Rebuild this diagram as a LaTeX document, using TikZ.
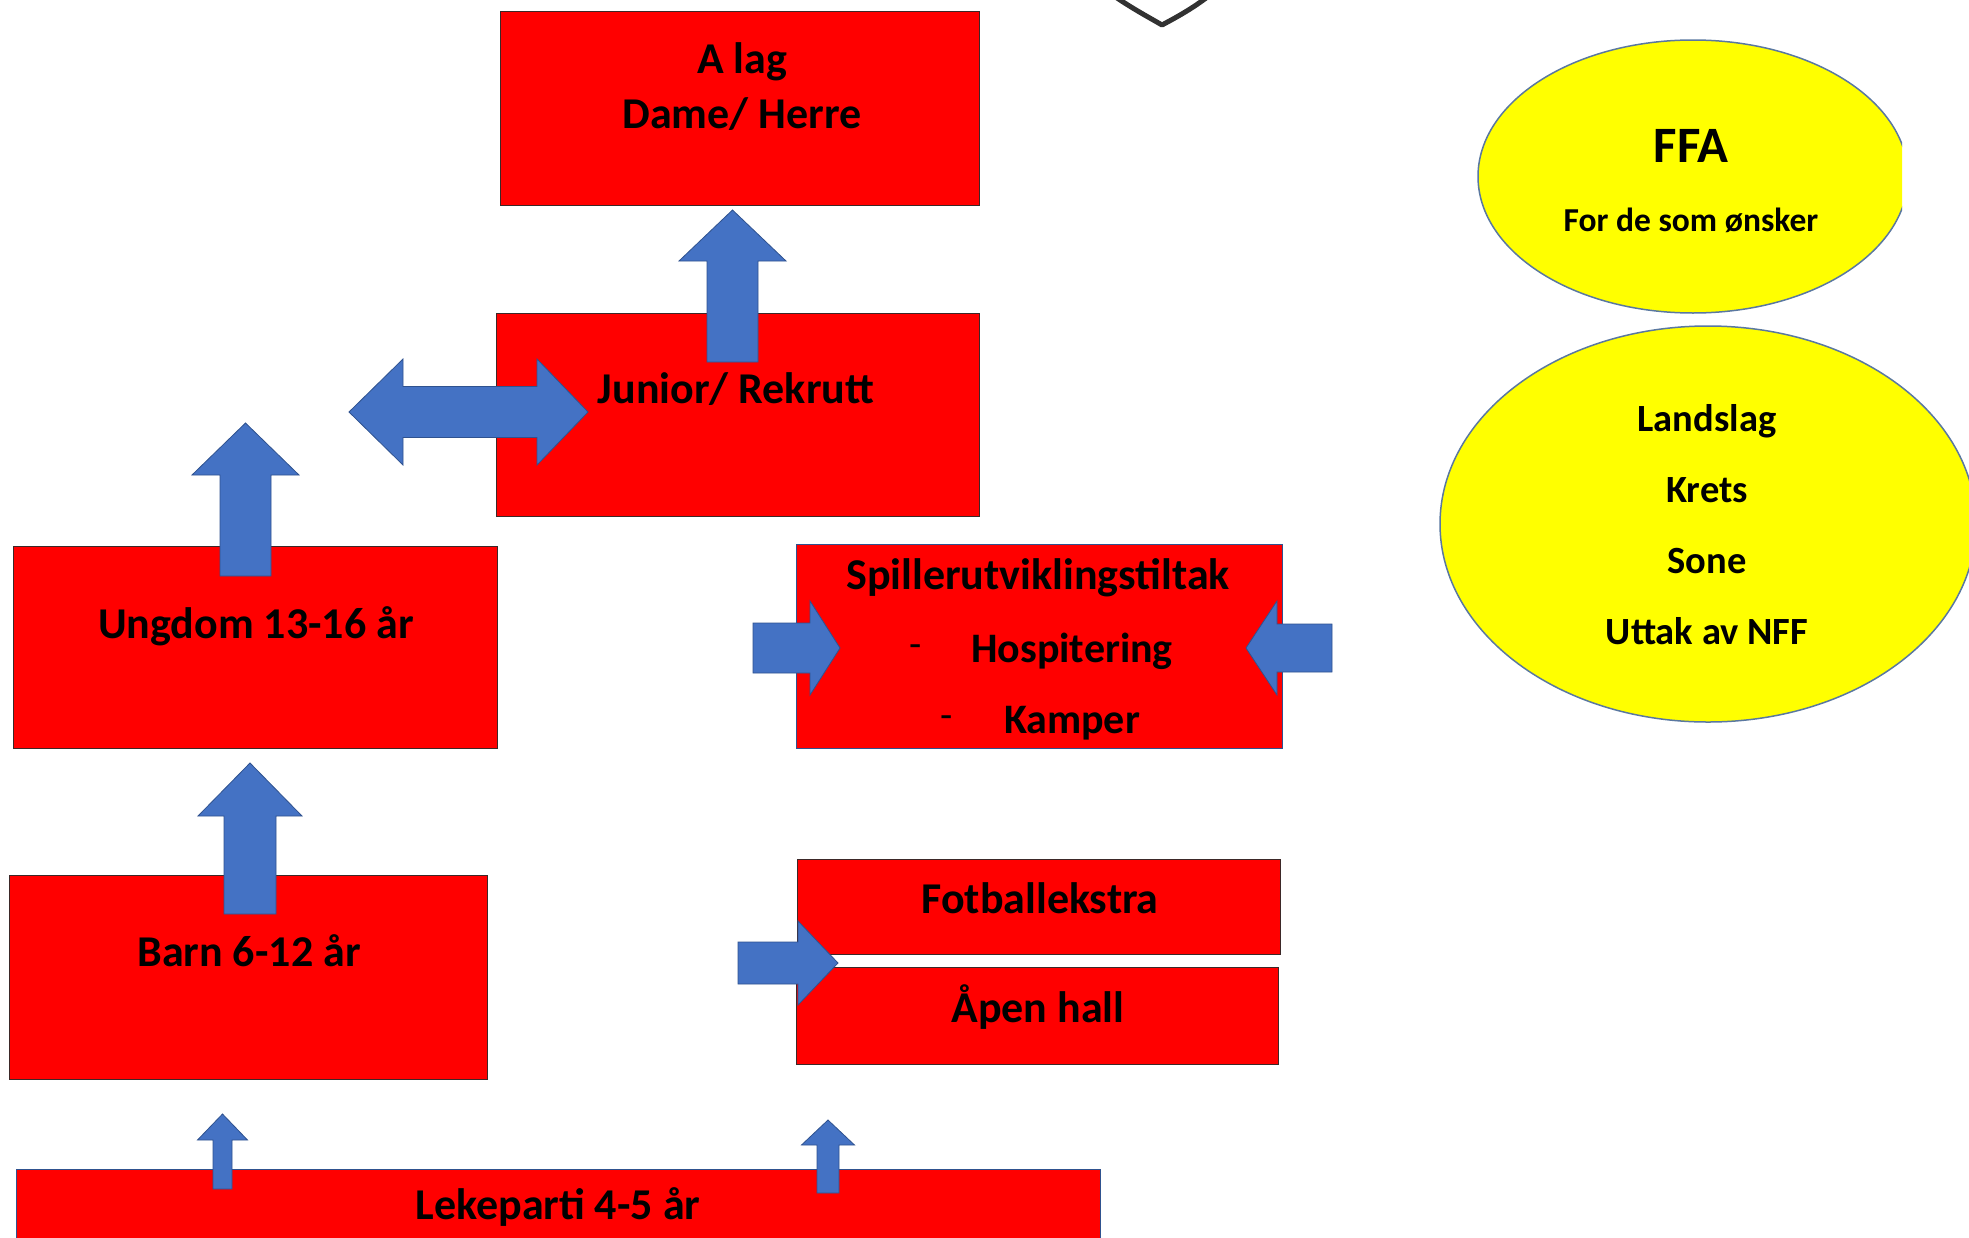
\documentclass[tikz,border=0pt]{standalone}
\usepackage{fontspec}
\setmainfont{Carlito}
\usetikzlibrary{shapes.geometric}
\definecolor{boxred}{RGB}{255,0,0}
\definecolor{boxedge}{RGB}{60,40,40}
\definecolor{blueedge}{RGB}{47,82,143}
\definecolor{arrblue}{RGB}{68,114,196}
\definecolor{ellyel}{RGB}{255,255,0}
\definecolor{elledge}{RGB}{90,120,160}
\definecolor{shieldgray}{RGB}{50,50,50}
\newcommand\blockv[6]{% cx, tip, base, tail, shaft half, head half
  \filldraw[blockarrow] (#1,#2) -- (#1+#6,#3) -- (#1+#5,#3) -- (#1+#5,#4) -- (#1-#5,#4) -- (#1-#5,#3) -- (#1-#6,#3) -- cycle;}
\newcommand\blockh[6]{% cy, tip, base, tail, shaft half, head half
  \filldraw[blockarrow] (#2,#1) -- (#3,#1-#6) -- (#3,#1-#5) -- (#4,#1-#5) -- (#4,#1+#5) -- (#3,#1+#5) -- (#3,#1+#6) -- cycle;}
\begin{document}
\begin{tikzpicture}[x=1pt,y=-1pt,
  redbox/.style={rectangle, fill=boxred, draw=boxedge, line width=1pt, inner sep=0pt},
  bluebox/.style={redbox, draw=blueedge},
  blockarrow/.style={fill=arrblue, draw=blueedge, line width=0.8pt, line join=miter},
  yell/.style={ellipse, fill=ellyel, draw=elledge, line width=1.5pt, inner sep=0pt},
  lbl/.style={font=\bfseries\fontsize{44}{50}\selectfont, text height=28pt, text depth=0pt, inner sep=0pt},
  slbl/.style={font=\bfseries\fontsize{42}{48}\selectfont, text height=27pt, text depth=0pt, inner sep=0pt},
  elbl/.style={font=\bfseries\fontsize{38.5}{44}\selectfont, text height=24.8pt, text depth=0pt, inner sep=0pt},
  dashlbl/.style={font=\fontsize{40}{44}\selectfont, inner sep=0pt}]
\useasboundingbox (0,0) rectangle (1969,1237);
\clip (0,0) rectangle (1969,1237);
\fill[white] (0,0) rectangle (1969,1237);

% shield fragment
\draw[shieldgray, line width=5pt, line cap=round, line join=round]
  (1117,-2) .. controls (1135,10) and (1150,18) .. (1162,25) .. controls (1175,18) and (1190,10) .. (1206,-2);

% boxes
\node[redbox, minimum width=479pt, minimum height=194pt] (alag) at (739.5,108) {};
\node[redbox, minimum width=483pt, minimum height=203pt] (junior) at (737.5,414.5) {};
\node[redbox, minimum width=484pt, minimum height=202pt] (ungdom) at (255,647) {};
\node[redbox, minimum width=478pt, minimum height=204pt] (barn) at (248,977) {};
\node[bluebox, minimum width=1084pt, minimum height=90pt] (leke) at (558,1214) {};
\node[bluebox, minimum width=486pt, minimum height=204pt] (spiller) at (1039,646) {};
\node[redbox, minimum width=483pt, minimum height=95pt] (fotball) at (1038.5,906.5) {};
\node[redbox, minimum width=482pt, minimum height=97pt] (apen) at (1037,1015.5) {};

% ellipses
\begin{scope}
  \clip (0,0) rectangle (1902,1237);
  \node[yell, minimum width=430pt, minimum height=273pt] (ffa) at (1693,176.5) {};
\end{scope}
\node[yell, minimum width=536pt, minimum height=396pt] (lands) at (1708,524) {};

% block arrows
\blockv{732.5}{210}{261}{362}{25.5}{53.5}
\blockv{245.5}{423}{475}{576}{25.5}{53.5}
\blockv{250}{763}{816}{914}{26}{52}
\blockv{222.5}{1114}{1140}{1189}{9.5}{25}
\blockv{828}{1120}{1145}{1193}{11}{26.5}
\blockh{648}{840}{810}{753}{25}{47}
\blockh{648}{1246}{1277}{1332}{24}{47}
\blockh{963}{838}{798}{738}{21}{42}
\filldraw[blockarrow] (349,412) -- (403,359) -- (403,386.5) -- (537,386.5) -- (537,359) -- (588,412)
  -- (537,465) -- (537,437.5) -- (403,437.5) -- (403,465) -- cycle;

% texts
\node[lbl] (alagA) at (742,59) {A lag};
\node[lbl] (alagB) at (742,114) {Dame/ Herre};
\node[lbl] (juniorT) at (736,389) {Junior/ Rekrutt};
\node[lbl] (ungdomT) at (256,624) {Ungdom 13-16 år};
\node[lbl] (barnT) at (249,952) {Barn 6-12 år};
\node[lbl] (spillerT) at (1038,575) {Spillerutviklingstiltak};
\node[dashlbl] (d1) at (916,651) {-};
\node[slbl] (hospT) at (1072,649) {Hospitering};
\node[dashlbl] (d2) at (947,722) {-};
\node[slbl] (kampT) at (1072,720) {Kamper};
\node[lbl] (fotT) at (1040,899) {Fotballekstra};
\node[lbl] (apenT) at (1038,1008) {Åpen hall};
\node[lbl] (lekeT) at (558,1205) {Lekeparti 4-5 år};
\node[font=\bfseries\fontsize{51}{56}\selectfont, text height=33pt, text depth=0pt, inner sep=0pt] (ffaT) at (1691,146) {FFA};
\node[font=\bfseries\fontsize{33.5}{38}\selectfont, text height=21.6pt, text depth=0pt, inner sep=0pt] (ffaS) at (1691,221) {For de som ønsker};
\node[elbl] (l1) at (1707,419) {Landslag};
\node[elbl] (l2) at (1707,490) {Krets};
\node[elbl] (l3) at (1707,561) {Sone};
\node[elbl] (l4) at (1707,632) {Uttak av NFF};
\end{tikzpicture}
\end{document}
